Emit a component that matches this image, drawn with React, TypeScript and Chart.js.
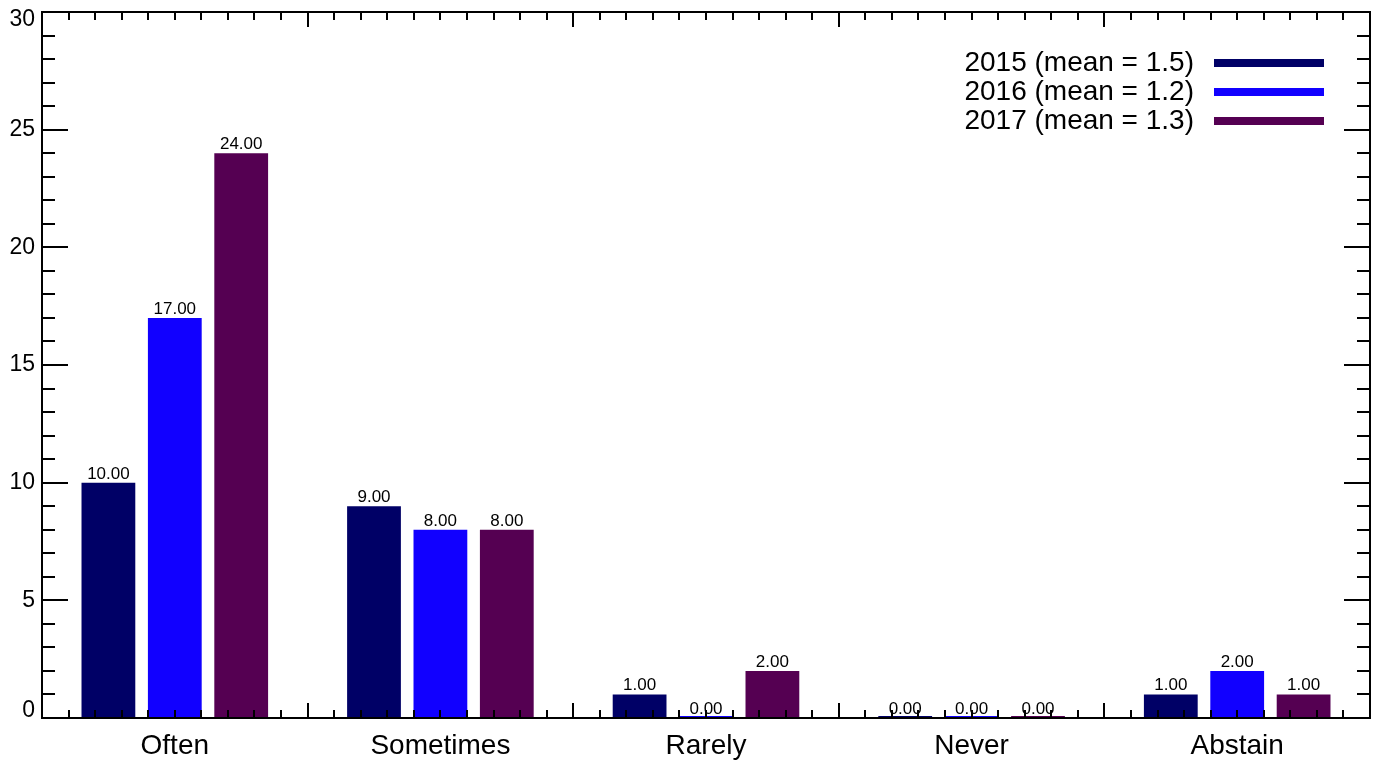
import React, { useEffect, useRef } from "react";
import { Chart, registerables } from "chart.js";

Chart.register(...registerables);

const categories = ["Often", "Sometimes", "Rarely", "Never", "Abstain"];
const series2015 = [10, 9, 1, 0, 1];
const series2016 = [17, 8, 0, 0, 2];
const series2017 = [24, 8, 2, 0, 1];
const seriesLabels = ["2015 (mean = 1.5)", "2016 (mean = 1.2)", "2017 (mean = 1.3)"];
const seriesColors = ["#000066", "#1100FF", "#550052"];
const yTicks = [0, 5, 10, 15, 20, 25, 30];

const FONT = "'Liberation Sans', Arial, Helvetica, sans-serif";

const framePlugin = {
  id: "idlFrame",
  afterDatasetsDraw(chart: any) {
    const ctx = chart.ctx;
    const { left, right, top, bottom } = chart.chartArea;
    const xs = chart.scales.x;
    const ys = chart.scales.y;
    ctx.save();
    ctx.strokeStyle = "#000";
    ctx.fillStyle = "#000";
    ctx.lineWidth = 2;
    ctx.lineCap = "butt";
    // frame
    ctx.beginPath();
    ctx.rect(left, top, right - left, bottom - top);
    ctx.stroke();

    // y ticks (every 1, major every 5)
    ctx.beginPath();
    for (let v = 0; v <= 30; v++) {
      const y = Math.round(ys.getPixelForValue(v));
      const len = v % 5 === 0 ? 26 : 13;
      ctx.moveTo(left, y);
      ctx.lineTo(left + len, y);
      ctx.moveTo(right, y);
      ctx.lineTo(right - len, y);
    }
    // x ticks (10 minor per category)
    const c0 = xs.getPixelForValue(0);
    const c1 = xs.getPixelForValue(1);
    const w = c1 - c0;
    const start = c0 - w / 2;
    for (let i = 0; i <= categories.length * 10; i++) {
      const x = Math.round(start + (w * i) / 10);
      const len = i % 10 === 0 ? 15 : 8;
      ctx.moveTo(x, bottom);
      ctx.lineTo(x, bottom - len);
      ctx.moveTo(x, top);
      ctx.lineTo(x, top + len);
    }
    ctx.stroke();

    // y labels
    ctx.font = `23px ${FONT}`;
    ctx.textAlign = "right";
    ctx.textBaseline = "middle";
    yTicks.forEach((v) => {
      let y = ys.getPixelForValue(v);
      y = Math.min(Math.max(y, top + 8), bottom - 7);
      ctx.fillText(String(v), left - 7, y);
    });

    // x labels
    ctx.font = `28px ${FONT}`;
    ctx.textAlign = "center";
    ctx.textBaseline = "middle";
    categories.forEach((c, i) => {
      ctx.fillText(c, xs.getPixelForValue(i), bottom + 28);
    });

    // value labels
    ctx.font = `17px ${FONT}`;
    ctx.textAlign = "center";
    ctx.textBaseline = "alphabetic";
    chart.data.datasets.forEach((ds: any, di: number) => {
      const meta = chart.getDatasetMeta(di);
      meta.data.forEach((bar: any, i: number) => {
        const v = ds.data[i];
        const y = ys.getPixelForValue(v);
        ctx.fillText(v.toFixed(2), bar.x, y - 4);
      });
    });

    // legend
    ctx.font = `28px ${FONT}`;
    ctx.textAlign = "right";
    ctx.textBaseline = "middle";
    const rowY = [63, 92, 121];
    seriesLabels.forEach((lab, i) => {
      ctx.fillStyle = "#000";
      ctx.fillText(lab, 1194, rowY[i]);
      ctx.fillStyle = seriesColors[i];
      ctx.fillRect(1214, rowY[i] - 4, 110, 8);
    });
    ctx.restore();
  },
};

export default function App() {
  const ref = useRef<HTMLCanvasElement | null>(null);
  useEffect(() => {
    document.body.style.margin = "0";
    const canvas = ref.current!;
    const chart = new Chart(canvas, {
      type: "bar",
      data: {
        labels: categories,
        datasets: [series2015, series2016, series2017].map((d, i) => ({
          label: seriesLabels[i],
          data: d,
          backgroundColor: seriesColors[i],
          borderWidth: 0,
          minBarLength: 2,
          categoryPercentage: 0.75,
          barPercentage: 0.81,
        })),
      },
      options: {
        responsive: false,
        animation: false,
        layout: { padding: { left: 42, top: 12, right: 8, bottom: 46 } },
        plugins: { legend: { display: false }, tooltip: { enabled: false }, title: { display: false } },
        scales: {
          x: { display: false, offset: true },
          y: { display: false, min: 0, max: 30 },
        },
      },
      plugins: [framePlugin],
    });
    return () => chart.destroy();
  }, []);
  return (
    <div style={{ position: "absolute", left: 0, top: 0, width: 1378, height: 764, background: "#fff" }}>
      <canvas ref={ref} width={1378} height={764} style={{ width: 1378, height: 764 }} />
    </div>
  );
}
